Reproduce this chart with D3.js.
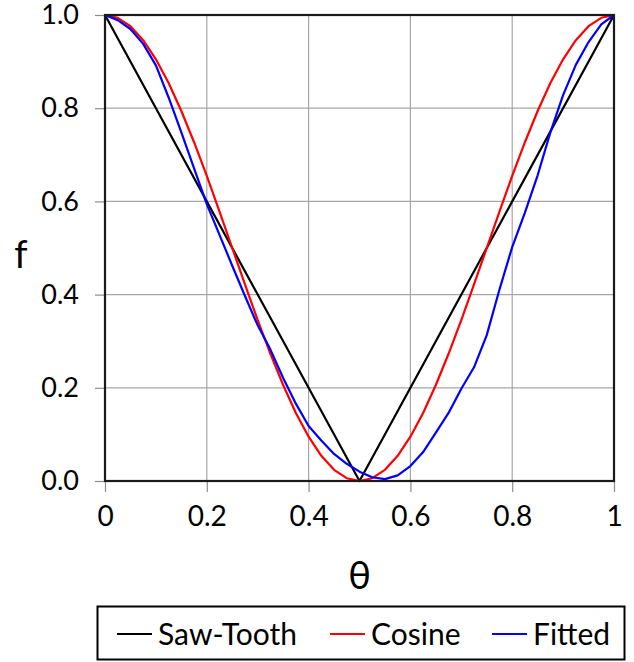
<!DOCTYPE html>
<html>
<head>
<meta charset="utf-8">
<script src="https://cdn.jsdelivr.net/npm/d3@7"></script>
<style>
  html, body { margin: 0; padding: 0; background: #fff; }
  svg { display: block; }
  text { font-family: Lato, "Open Sans", sans-serif; fill: #000; }
</style>
</head>
<body>
<svg id="chart" width="634" height="662"></svg>
<script>
// ---- data ----
const sawTheta = [0, 0.5, 1];
const sawValues = [1, 0, 1];

const gridTheta = [0, 0.025, 0.05, 0.075, 0.1, 0.125, 0.15, 0.175, 0.2, 0.225,
  0.25, 0.275, 0.3, 0.325, 0.35, 0.375, 0.4, 0.425, 0.45, 0.475,
  0.5, 0.525, 0.55, 0.575, 0.6, 0.625, 0.65, 0.675, 0.7, 0.725,
  0.75, 0.775, 0.8, 0.825, 0.85, 0.875, 0.9, 0.925, 0.95, 0.975, 1];

const cosineValues = [1.000, 0.994, 0.976, 0.946, 0.905, 0.854, 0.794, 0.727, 0.655, 0.578,
  0.500, 0.422, 0.345, 0.273, 0.206, 0.146, 0.095, 0.054, 0.024, 0.006,
  0.000, 0.006, 0.024, 0.054, 0.095, 0.146, 0.206, 0.273, 0.345, 0.422,
  0.500, 0.578, 0.655, 0.727, 0.794, 0.854, 0.905, 0.946, 0.976, 0.994, 1.000];

const fittedValues = [1.000, 0.989, 0.970, 0.938, 0.892, 0.823, 0.748, 0.671, 0.594, 0.528,
  0.462, 0.397, 0.334, 0.282, 0.221, 0.166, 0.118, 0.087, 0.058, 0.037,
  0.020, 0.008, 0.004, 0.012, 0.032, 0.062, 0.104, 0.146, 0.198, 0.244,
  0.313, 0.411, 0.502, 0.576, 0.656, 0.748, 0.828, 0.893, 0.942, 0.980, 1.000];

const xTicks = [0, 0.2, 0.4, 0.6, 0.8, 1];
const yTicks = [0, 0.2, 0.4, 0.6, 0.8, 1.0];
const xTickLabels = ["0", "0.2", "0.4", "0.6", "0.8", "1"];
const yTickLabels = ["0.0", "0.2", "0.4", "0.6", "0.8", "1.0"];

const seriesNames = ["Saw-Tooth", "Cosine", "Fitted"];
const seriesColors = ["#000000", "#ff0000", "#0000ff"];

// ---- layout ----
const svg = d3.select("#chart");
const L = 105, R = 614, T = 15, B = 481;

const x = d3.scaleLinear().domain([0, 1]).range([L, R]);
const y = d3.scaleLinear().domain([0, 1]).range([B, T]);

// gridlines
const grid = svg.append("g");
grid.selectAll("line.vx").data(xTicks.slice(1, -1)).join("line")
  .attr("x1", d => x(d)).attr("x2", d => x(d))
  .attr("y1", T).attr("y2", B)
  .attr("stroke", "#a6a6a6").attr("stroke-width", 1.2);
grid.selectAll("line.hy").data(yTicks.slice(1, -1)).join("line")
  .attr("x1", L).attr("x2", R)
  .attr("y1", d => y(d)).attr("y2", d => y(d))
  .attr("stroke", "#a6a6a6").attr("stroke-width", 1.2);

// axes (ticks outside, gray)
const xAxis = d3.axisBottom(x).tickValues(xTicks)
  .tickFormat((d, i) => xTickLabels[i]).tickSize(11).tickPadding(14);
const gx = svg.append("g").attr("transform", `translate(0,${B})`).call(xAxis);
gx.select(".domain").remove();
gx.selectAll(".tick line").attr("stroke", "#8c8c8c").attr("stroke-width", 1.2);
gx.selectAll(".tick text").style("font-family", "Lato, sans-serif")
  .style("font-size", "28px").attr("fill", "#000");

const yAxis = d3.axisLeft(y).tickValues(yTicks)
  .tickFormat((d, i) => yTickLabels[i]).tickSize(10).tickPadding(16);
const gy = svg.append("g").attr("transform", `translate(${L},0)`).call(yAxis);
gy.select(".domain").remove();
gy.selectAll(".tick line").attr("stroke", "#8c8c8c").attr("stroke-width", 1.2);
gy.selectAll(".tick text").style("font-family", "Lato, sans-serif")
  .style("font-size", "27px").attr("fill", "#000");

// lines
const line = d3.line().x(d => x(d[0])).y(d => y(d[1]));
const seriesData = [
  d3.zip(sawTheta, sawValues),
  d3.zip(gridTheta, cosineValues),
  d3.zip(gridTheta, fittedValues)
];
svg.append("g").selectAll("path").data(seriesData).join("path")
  .attr("d", line)
  .attr("fill", "none")
  .attr("stroke", (d, i) => seriesColors[i])
  .attr("stroke-width", 2.2)
  .attr("stroke-linejoin", "round");

// frame
svg.append("rect").attr("x", L).attr("y", T).attr("width", R - L).attr("height", B - T)
  .attr("fill", "none").attr("stroke", "#1a1a1a").attr("stroke-width", 2.2);

// axis titles
svg.append("text").attr("x", (L + R) / 2).attr("y", 589)
  .attr("text-anchor", "middle").style("font-size", "38px").text("θ");
svg.append("text").attr("x", 21).attr("y", 268)
  .attr("text-anchor", "middle").style("font-size", "38px").text("f");

// legend
const lg = svg.append("g");
lg.append("rect").attr("x", 97.5).attr("y", 606.5).attr("width", 527).attr("height", 53)
  .attr("fill", "#fff").attr("stroke", "#000").attr("stroke-width", 2);
const legendX = [117, 330, 492];
seriesNames.forEach((name, i) => {
  lg.append("line").attr("x1", legendX[i]).attr("x2", legendX[i] + 35)
    .attr("y1", 634).attr("y2", 634)
    .attr("stroke", seriesColors[i]).attr("stroke-width", 2);
  lg.append("text").attr("x", legendX[i] + 41).attr("y", 645)
    .style("font-size", "30px").text(name);
});
</script>
</body>
</html>
